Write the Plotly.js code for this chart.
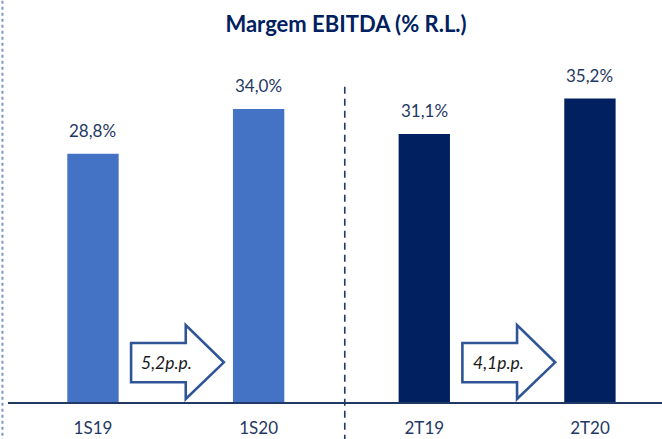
<!DOCTYPE html>
<html>
<head>
<meta charset="utf-8">
<script src="https://cdn.plot.ly/plotly-3.0.1.min.js"></script>
<style>
  html, body { margin: 0; padding: 0; background: #fff; }
  #chart { width: 662px; height: 439px; }
</style>
</head>
<body>
<div id="chart"></div>
<script>
// ---- data ----
const categories = ['1S19', '1S20', '2T19', '2T20'];
const values = [28.8, 34.0, 31.1, 35.2];
const barColors = ['#4472C4', '#4472C4', '#002060', '#002060'];
const comparisons = [[0, 1], [2, 3]]; // pairs compared by the arrows
const chartTitle = 'Margem EBITDA (% R.L.)';

// ---- helpers ----
const fmt = v => v.toFixed(1).replace('.', ',');
const xIdx = categories.map((_, i) => i);
const navy = '#1F3864';
const font = 'Lato, "Open Sans", sans-serif';

// value labels above bars
const annotations = values.map((v, i) => ({
  x: i, y: v, xref: 'x', yref: 'y',
  text: fmt(v) + '%', showarrow: false,
  yanchor: 'bottom', yshift: 11,
  font: { family: font, size: 17, color: navy }
}));

// block arrows with the p.p. change
const shapes = [];
comparisons.forEach(([a, b]) => {
  const x0 = a + 0.23, xh = a + 0.56, xt = a + 0.79;
  const yb0 = 2.3, yb1 = 6.85, yh0 = 0.35, yh1 = 8.93, ym = 4.6;
  shapes.push({
    type: 'path', xref: 'x', yref: 'y',
    path: `M ${x0} ${yb0} L ${xh} ${yb0} L ${xh} ${yh0} L ${xt} ${ym} L ${xh} ${yh1} L ${xh} ${yb1} L ${x0} ${yb1} Z`,
    fillcolor: '#FFFFFF', line: { color: '#2F5597', width: 2.6 }, layer: 'above'
  });
  annotations.push({
    x: a + 0.445, y: 4.6, xref: 'x', yref: 'y',
    text: '<i>' + fmt(values[b] - values[a]) + 'p.p.</i>', showarrow: false,
    font: { family: font, size: 17.5, color: '#1a1a1a' }
  });
});

// dashed separator between groups
shapes.push({
  type: 'line', xref: 'x', yref: 'paper',
  x0: 1.52, x1: 1.52, y0: -0.11, y1: 0.876,
  line: { color: navy, width: 1.6, dash: '7px,5px' }
});
// dotted left border
shapes.push({
  type: 'line', xref: 'paper', yref: 'paper',
  x0: -0.0085, x1: -0.0085, y0: -0.11, y1: 1.12,
  line: { color: '#7F96C8', width: 2, dash: 'dot' }
});

const trace = {
  type: 'bar',
  x: xIdx, y: values,
  width: 0.31,
  marker: { color: barColors, line: { width: 0 } },
  hoverinfo: 'skip'
};

const layout = {
  width: 662, height: 439,
  margin: { l: 8, r: 0, t: 40, b: 37 },
  paper_bgcolor: '#FFFFFF', plot_bgcolor: '#FFFFFF',
  showlegend: false,
  title: {
    text: '<b>' + chartTitle + '</b>',
    x: 346 / 662, xanchor: 'center', xref: 'container',
    y: 1 - 24 / 439, yanchor: 'middle', yref: 'container',
    font: { family: font, size: 22, color: '#002060' }
  },
  xaxis: {
    type: 'linear', range: [-0.513, 3.435],
    tickvals: xIdx, ticktext: categories,
    showgrid: false, zeroline: false,
    showline: true, linecolor: navy, linewidth: 2,
    ticks: '', ticklabelstandoff: 10,
    tickfont: { family: font, size: 17, color: navy },
    fixedrange: true
  },
  yaxis: {
    range: [0, 42], visible: false, showgrid: false, zeroline: false,
    fixedrange: true
  },
  annotations: annotations,
  shapes: shapes
};

Plotly.newPlot('chart', [trace], layout, { displayModeBar: false, staticPlot: true });
</script>
</body>
</html>
